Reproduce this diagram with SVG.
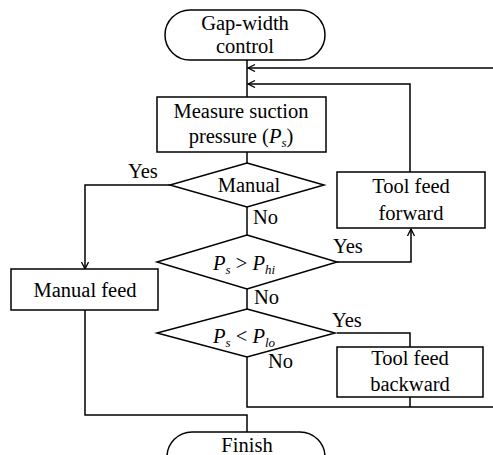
<svg xmlns="http://www.w3.org/2000/svg" width="493" height="455" viewBox="0 0 493 455" font-family="Liberation Serif, Times New Roman, serif">
<defs>
<style>
.s{fill:#fff;stroke:#000;stroke-width:1.5}
.c{fill:none;stroke:#000;stroke-width:1.5}
svg text, svg tspan{font-family:'Liberation Serif','Times New Roman',serif !important}
text{font-size:20.5px;fill:#000}
.m{text-anchor:middle}
.i{font-style:italic}
.sub{font-size:13px;font-style:italic}
</style>
<marker id="a" markerWidth="10" markerHeight="10" refX="8" refY="4" orient="auto" markerUnits="userSpaceOnUse">
<path d="M1,0.5 L8,4 L1,7.5" fill="none" stroke="#000" stroke-width="1.3"/>
</marker>
</defs>
<rect width="493" height="455" fill="#fff"/>
<g id="connectors">
<path class="c" d="M247,60 V97"/>
<path class="c" d="M493,68 H248" marker-end="url(#a)"/>
<path class="c" d="M410,172 V84 H248" marker-end="url(#a)"/>
<path class="c" d="M247,152 V163"/>
<path class="c" d="M170,185 H85 V269" marker-end="url(#a)"/>
<path class="c" d="M247,207 V235"/>
<path class="c" d="M337,262 H411 V229" marker-end="url(#a)"/>
<path class="c" d="M247,289 V309"/>
<path class="c" d="M337,333 H410 V347"/>
<path class="c" d="M247,357 V407 H493"/>
<path class="c" d="M410,397 V407"/>
<path class="c" d="M85,310 V415 H247 V432"/>
</g>
<g id="start">
<rect class="s" x="165" y="10" width="160" height="50" rx="25"/>
<text class="m" x="245" y="30" style="font-family:'Liberation Serif',serif">Gap-width</text>
<text class="m" x="245" y="53">control</text>
</g>
<g id="measure">
<rect class="s" x="157" y="97" width="169" height="55"/>
<text class="m" x="241" y="118">Measure suction</text>
<text class="m" x="241" y="143">pressure (<tspan class="i">P</tspan><tspan class="sub" dy="4">s</tspan><tspan dy="-4">)</tspan></text>
</g>
<g id="manual">
<polygon class="s" points="247,163 324,185 247,207 170,185"/>
<text class="m" x="249" y="192">Manual</text>
<text x="128" y="178">Yes</text>
<text x="253" y="224">No</text>
</g>
<g id="forward">
<rect class="s" x="337" y="172" width="148" height="56"/>
<text class="m" x="411" y="193">Tool feed</text>
<text class="m" x="411" y="220">forward</text>
</g>
<g id="manualfeed">
<rect class="s" x="11" y="269" width="147" height="41"/>
<text class="m" x="85" y="297">Manual feed</text>
</g>
<g id="hi">
<polygon class="s" points="247,235 337,262 247,289 157,262"/>
<text x="213" y="270"><tspan class="i">P</tspan><tspan class="sub" dy="4">s</tspan><tspan dy="-4"> &gt; </tspan><tspan class="i">P</tspan><tspan class="sub" dy="4">hi</tspan></text>
<text x="333" y="253">Yes</text>
<text x="254" y="304">No</text>
</g>
<g id="lo">
<polygon class="s" points="247,309 335,333 247,357 157,333"/>
<text x="213" y="343"><tspan class="i">P</tspan><tspan class="sub" dy="4">s</tspan><tspan dy="-4"> &lt; </tspan><tspan class="i">P</tspan><tspan class="sub" dy="4">lo</tspan></text>
<text x="332" y="327">Yes</text>
<text x="268" y="368">No</text>
</g>
<g id="backward">
<rect class="s" x="337" y="347" width="146" height="50"/>
<text class="m" x="410" y="365">Tool feed</text>
<text class="m" x="410" y="391">backward</text>
</g>
<g id="finish">
<rect class="s" x="167" y="432" width="158" height="50" rx="25"/>
<text class="m" x="247" y="452">Finish</text>
</g>
</svg>
